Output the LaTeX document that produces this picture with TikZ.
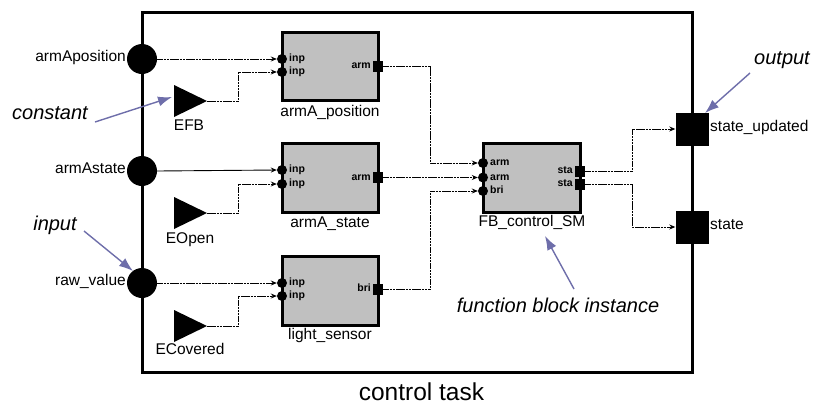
\documentclass[tikz,border=0pt]{standalone}
\usepackage{fontspec}
\setmainfont{Liberation Sans}
\usetikzlibrary{arrows.meta,calc}
\definecolor{fbgray}{HTML}{C0C0C0}
\definecolor{notecol}{HTML}{6E6EAA}
\tikzset{
  inport/.style={circle, fill=black, inner sep=0pt, minimum size=30},
  outport/.style={rectangle, fill=black, inner sep=0pt, minimum size=33},
  fbbox/.style={rectangle, draw=black, line width=3, fill=fbgray, inner sep=0pt, minimum width=96, minimum height=68},
  pin/.style={circle, fill=black, inner sep=0pt, minimum size=10},
  pout/.style={rectangle, fill=black, inner sep=0pt, minimum width=10, minimum height=11},
  lbl/.style={font=\fontsize{15.5}{18}\selectfont, inner sep=0pt},
  plbl/.style={font=\bfseries\fontsize{10.5}{12}\selectfont, inner sep=0pt},
  note/.style={font=\itshape\fontsize{20}{24}\selectfont, inner sep=0pt},
  notearrow/.style={draw=notecol, line width=1.4, -{Latex[length=14,width=10]}},
  wire/.style={line width=0.9, -{Stealth[length=6,width=5]}},
  dwire/.style={wire, dash pattern=on 2.5 off 0.7},
}
\begin{document}
\begin{tikzpicture}[x=1pt,y=-1pt]
\useasboundingbox (0,0) rectangle (813,405);
% task frame
\node[draw, line width=3, minimum width=550, minimum height=360, inner sep=0pt] (task) at (417,192) {};
\node[lbl, font=\fontsize{24.5}{29}\selectfont, anchor=base] (tasklbl) at (421.5,400) {control task};

% inputs
\node[inport] (inA) at (142,59) {};
\node[inport] (inS) at (142,171) {};
\node[inport] (inR) at (142,283) {};
\node[lbl, anchor=mid east] (inAl) at (126,59) {armAposition};
\node[lbl, anchor=mid east] (inSl) at (126,171) {armAstate};
\node[lbl, anchor=mid east] (inRl) at (126,283) {raw\_value};

% outputs
\node[outport] (outU) at (692,129) {};
\node[outport] (outS) at (692,227) {};
\node[lbl, anchor=mid west] (outUl) at (710,129) {state\_updated};
\node[lbl, anchor=mid west] (outSl) at (710,227) {state};

% constants
\fill (174,85) -- (207,101) -- (174,117) -- cycle;
\fill (174,197) -- (207,213) -- (174,229) -- cycle;
\fill (174,310) -- (207,326) -- (174,342) -- cycle;
\coordinate (cEFB) at (207,101);
\coordinate (cEOpen) at (207,213);
\coordinate (cECov) at (207,326);
\node[lbl, anchor=mid] (EFBl) at (189,128) {EFB};
\node[lbl, anchor=mid] (EOpenl) at (190,241) {EOpen};
\node[lbl, anchor=mid] (ECovl) at (190,352) {ECovered};

% function blocks
\node[fbbox] (bA) at (330,66) {};
\node[fbbox, minimum height=69] (bS) at (330,177.5) {};
\node[fbbox, minimum height=69] (bL) at (330,290.5) {};
\node[fbbox, minimum width=97, minimum height=69] (bF) at (531.5,177.5) {};
\node[lbl, anchor=mid] (bAl) at (330,114) {armA\_position};
\node[lbl, anchor=mid] (bSl) at (330,225) {armA\_state};
\node[lbl, anchor=mid] (bLl) at (330,337) {light\_sensor};
\node[lbl, anchor=mid] (bFl) at (532,224) {FB\_control\_SM};

% ports of armA_position
\node[pin] (pA1) at (282,59) {};
\node[pin] (pA2) at (282,72) {};
\node[pout] (pAo) at (378,66) {};
\node[plbl, anchor=mid west] at (289,59) {inp};
\node[plbl, anchor=mid west] at (289,72) {inp};
\node[plbl, anchor=mid east] at (371,66) {arm};
% ports of armA_state
\node[pin] (pS1) at (282,170) {};
\node[pin] (pS2) at (282,184) {};
\node[pout] (pSo) at (378,177.5) {};
\node[plbl, anchor=mid west] at (289,170) {inp};
\node[plbl, anchor=mid west] at (289,184) {inp};
\node[plbl, anchor=mid east] at (371,177.5) {arm};
% ports of light_sensor
\node[pin] (pL1) at (282,283) {};
\node[pin] (pL2) at (282,296) {};
\node[pout] (pLo) at (378,289) {};
\node[plbl, anchor=mid west] at (289,283) {inp};
\node[plbl, anchor=mid west] at (289,296) {inp};
\node[plbl, anchor=mid east] at (371,289) {bri};
% ports of FB_control_SM
\node[pin] (pF1) at (483,163) {};
\node[pin] (pF2) at (483,177.5) {};
\node[pin] (pF3) at (483,191) {};
\node[pout] (pFo1) at (580,171) {};
\node[pout] (pFo2) at (580,184) {};
\node[plbl, anchor=mid west] at (490,163) {arm};
\node[plbl, anchor=mid west] at (490,177.5) {arm};
\node[plbl, anchor=mid west] at (490,191) {bri};
\node[plbl, anchor=mid east] at (573,171) {sta};
\node[plbl, anchor=mid east] at (573,184) {sta};

% wires
\draw[dwire] (inA.east) -- (pA1.west);
\draw[dwire] (cEFB) -- ++(31,0) |- (pA2.west);
\draw[wire] (inS.east) -- (pS1.west);
\draw[dwire] (cEOpen) -- ++(31,0) |- (pS2.west);
\draw[dwire] (inR.east) -- (pL1.west);
\draw[dwire] (cECov) -- ++(31,0) |- (pL2.west);
\draw[dwire] (pAo.east) -- ++(47,0) |- (pF1.west);
\draw[dwire] (pSo.east) -- (pF2.west);
\draw[dwire] (pLo.east) -- ++(47,0) |- (pF3.west);
\draw[dwire] (pFo1.east) -- ++(47,0) |- (outU.west);
\draw[dwire] (pFo2.east) -- ++(47,0) |- (outS.west);

% notes
\node[note, anchor=mid] (nC) at (50,117) {constant};
\node[note, anchor=mid] (nI) at (55,228) {input};
\node[note, anchor=mid] (nO) at (782,62) {output};
\node[note, anchor=mid] (nF) at (558,310) {function block instance};
\coordinate (nCs) at (95,122);
\coordinate (nCe) at (172,97);
\coordinate (nIs) at (84,231);
\coordinate (nIe) at (133,271);
\coordinate (nOs) at (750,73);
\coordinate (nOe) at (705,113);
\coordinate (nFs) at (574,289);
\coordinate (nFe) at (545,236);
\draw[notearrow] (nCs) -- (nCe);
\draw[notearrow] (nIs) -- (nIe);
\draw[notearrow] (nOs) -- (nOe);
\draw[notearrow] (nFs) -- (nFe);
\end{tikzpicture}
\end{document}
